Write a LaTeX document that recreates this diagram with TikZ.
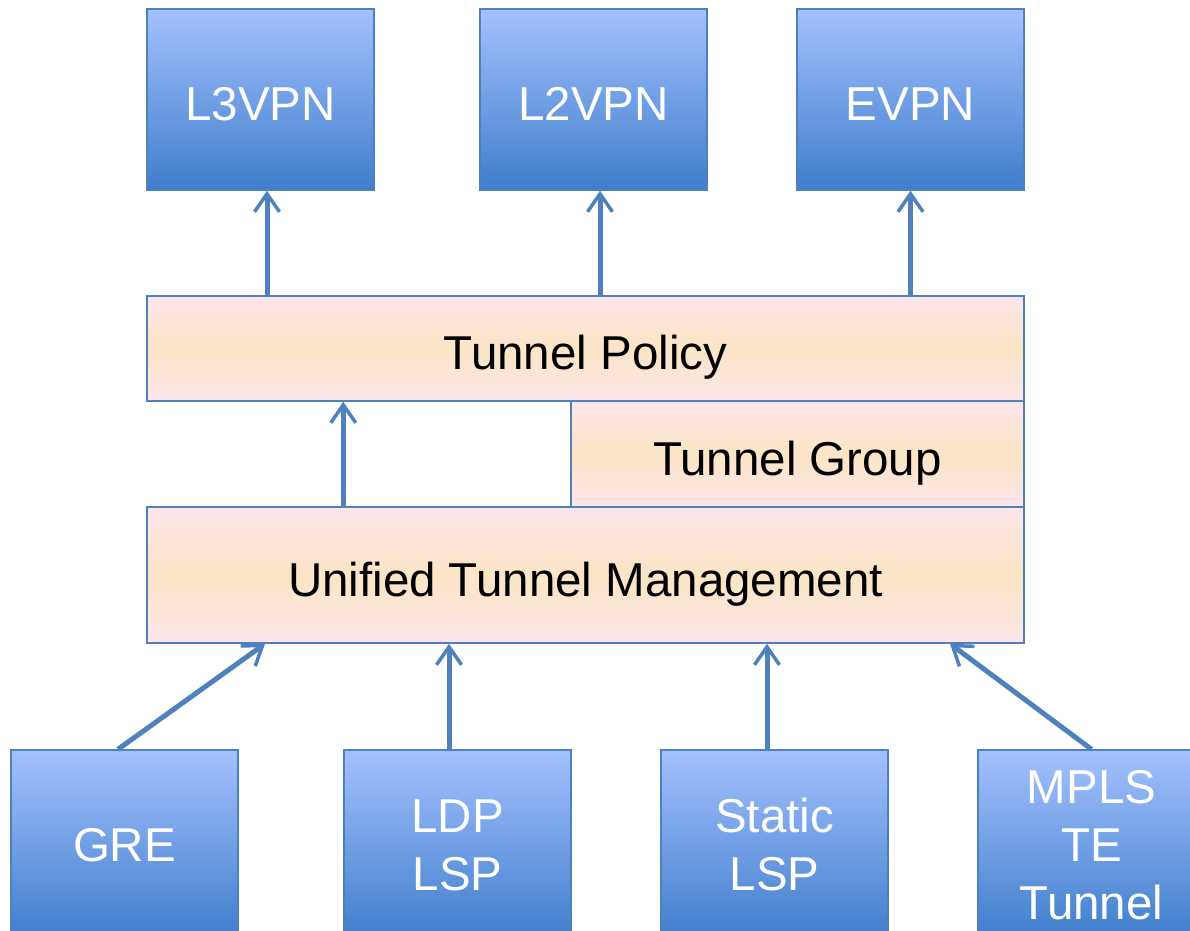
\documentclass[tikz,border=0pt]{standalone}
\usepackage{fontspec}
\setmainfont{Liberation Sans}
\usetikzlibrary{arrows.meta}
\definecolor{edgeblue}{HTML}{4F81BD}
\definecolor{boxtop}{HTML}{A3C1FE}
\definecolor{boxbot}{HTML}{3F7DCB}
\definecolor{layerpink}{HTML}{FCE5EA}
\definecolor{layerpeach}{HTML}{FAE5C5}
\begin{document}
\begin{tikzpicture}[x=1pt,y=-1pt,
  box/.style={rectangle,draw=edgeblue,line width=1.5pt,top color=boxtop,bottom color=boxbot,
    minimum width=227pt,text=white,align=center,inner sep=0pt,
    font=\fontsize{47.5}{58}\selectfont},
  svc/.style={box,minimum height=181pt,text height=41pt,text depth=0pt},
  tun/.style={box,minimum height=190pt},
  layer/.style={rectangle,draw=edgeblue,line width=1.5pt,top color=layerpink,bottom color=layerpink,
    middle color=layerpeach,inner sep=0pt,text height=52pt,text depth=10pt,
    font=\fontsize{47.5}{58}\selectfont},
  up/.style={-{Straight Barb[length=18pt,width=25pt,line width=3.5pt]},draw=edgeblue,line width=5pt}]
  \useasboundingbox (0,0) rectangle (1190,930);

  \node[svc] (l3vpn) at (260.5,99.5) {L3VPN};
  \node[svc] (l2vpn) at (593.5,99.5) {L2VPN};
  \node[svc] (evpn) at (910.5,99.5) {EVPN};

  \node[layer,minimum width=877pt,minimum height=105pt] (policy) at (585.5,348.5) {Tunnel Policy};
  \node[layer,minimum width=453pt,minimum height=106pt] (group) at (797.5,454) {Tunnel Group};
  \node[layer,minimum width=877pt,minimum height=136pt] (utm) at (585.5,575) {Unified Tunnel Management};

  \node[tun] (gre) at (124.5,845) {GRE};
  \node[tun] (ldp) at (457.5,845) {LDP\\LSP};
  \node[tun] (static) at (774.5,845) {Static\\LSP};
  \node[tun] (mpls) at (1091.5,845) {MPLS\\TE\\Tunnel};

  \draw[up] ([xshift=6.5pt]l3vpn.south |- policy.north) -- ([xshift=6.5pt]l3vpn.south);
  \draw[up] ([xshift=6.5pt]l2vpn.south |- policy.north) -- ([xshift=6.5pt]l2vpn.south);
  \draw[up] (evpn.south |- policy.north) -- (evpn.south);
  \draw[up] (utm.north -| ldp.west) -- (policy.south -| ldp.west);
  \draw[up] ([xshift=-6.5pt]gre.north) -- ([xshift=-320.5pt]utm.south);
  \draw[up] ([xshift=-8.5pt]ldp.north) -- ([xshift=-136.5pt]utm.south);
  \draw[up] ([xshift=-7.5pt]static.north) -- ([xshift=181.5pt]utm.south);
  \draw[up] (mpls.north) -- ([xshift=364.5pt]utm.south);
\end{tikzpicture}
\end{document}
